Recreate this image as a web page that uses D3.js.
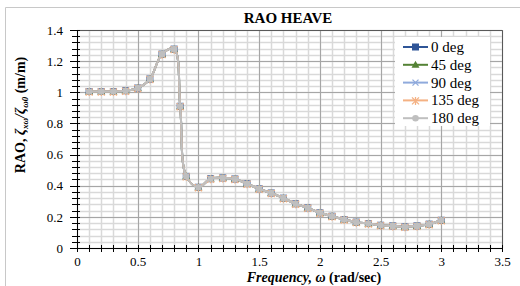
<!DOCTYPE html>
<html>
<head>
<meta charset="utf-8">
<script src="https://cdn.jsdelivr.net/npm/d3@7"></script>
<style>
  html, body { margin: 0; padding: 0; background: #fff; }
  svg, svg text { font-family: "Liberation Serif", "Times New Roman", "DejaVu Serif", serif; }
</style>
</head>
<body>
<div id="chart"></div>
<script>
// DATA ------------------------------------------------------------
var freq = [0.1, 0.2, 0.3, 0.4, 0.5, 0.6, 0.7, 0.8, 0.85, 0.9, 1.0, 1.1, 1.2, 1.3, 1.4, 1.5,
            1.6, 1.7, 1.8, 1.9, 2.0, 2.1, 2.2, 2.3, 2.4, 2.5, 2.6, 2.7, 2.8, 2.9, 3.0];
var rao0   = [1.005, 1.005, 1.005, 1.01, 1.027, 1.085, 1.245, 1.277, 0.91, 0.46, 0.39, 0.445, 0.45, 0.443, 0.413, 0.38,
              0.353, 0.32, 0.284, 0.258, 0.226, 0.204, 0.183, 0.166, 0.157, 0.146, 0.142, 0.136, 0.142, 0.153, 0.178];
var rao45  = rao0.slice();
var rao90  = rao0.slice();
var rao135 = rao0.slice();
var rao180 = rao0.slice();
var seriesNames = ["0 deg", "45 deg", "90 deg", "135 deg", "180 deg"];
var xTicks = [0, 0.5, 1, 1.5, 2, 2.5, 3, 3.5];
var yTicks = [0, 0.2, 0.4, 0.6, 0.8, 1, 1.2, 1.4];

// LAYOUT ------------------------------------------------------------
var width = 520, height = 286;
var margin = {top: 30, right: 18, bottom: 38, left: 77};
var plotW = width - margin.left - margin.right,
    plotH = height - margin.top - margin.bottom;
var serif = '"Liberation Serif", "Times New Roman", "DejaVu Serif", serif';

var colors = {
	'0 deg': '#2f5597',
	'45 deg': '#548235',
	'90 deg': '#8faadc',
	'135 deg': '#f4b183',
	'180 deg': '#bfbfbf'
};

var svg = d3.select("#chart")
	.append("svg")
	.attr("width", width)
	.attr("height", height)
	.attr("font-family", serif);

// outer chart border
svg.append("path")
	.attr("d", "M5.5,286 L5.5,7.5 L520,7.5")
	.style("fill", "none")
	.style("stroke", "#c8c8c8")
	.style("stroke-width", 1);

var g = svg.append("g")
	.attr("transform", "translate(" + margin.left + "," + margin.top + ")");

var x = d3.scaleLinear().domain([0, 3.5]).range([0, plotW]);
var y = d3.scaleLinear().domain([0, 1.4]).range([plotH, 0]);

// gridlines: minor then major
var xMinor = d3.range(0, 35.01, 1).map(function(d) { return d / 10; });
var yMinor = d3.range(0, 35.01, 1).map(function(d) { return d * 0.04; });

g.append("g").selectAll("line")
	.data(xMinor)
	.enter().append("line")
	.attr("x1", function(d) { return Math.round(x(d)) + 0.5; })
	.attr("x2", function(d) { return Math.round(x(d)) + 0.5; })
	.attr("y1", 0).attr("y2", plotH)
	.style("stroke", "#d9d9d9").style("stroke-width", 1.5);

g.append("g").selectAll("line")
	.data(yMinor)
	.enter().append("line")
	.attr("y1", function(d) { return Math.round(y(d)) + 0.5; })
	.attr("y2", function(d) { return Math.round(y(d)) + 0.5; })
	.attr("x1", 0).attr("x2", plotW)
	.style("stroke", "#d9d9d9").style("stroke-width", 1.5);

g.append("g").selectAll("line")
	.data(xTicks)
	.enter().append("line")
	.attr("x1", function(d) { return Math.round(x(d)) + 0.5; })
	.attr("x2", function(d) { return Math.round(x(d)) + 0.5; })
	.attr("y1", 0).attr("y2", plotH)
	.style("stroke", "#a6a6a6").style("stroke-width", 1);

g.append("g").selectAll("line")
	.data(yTicks)
	.enter().append("line")
	.attr("y1", function(d) { return Math.round(y(d)) + 0.5; })
	.attr("y2", function(d) { return Math.round(y(d)) + 0.5; })
	.attr("x1", 0).attr("x2", plotW)
	.style("stroke", "#a6a6a6").style("stroke-width", 1);

// plot frame (top/right)
g.append("path")
	.attr("d", "M0," + 0.5 + " L" + (plotW + 0.5) + ",0.5 L" + (plotW + 0.5) + "," + plotH)
	.style("fill", "none").style("stroke", "#595959").style("stroke-width", 1);

// AXES ------------------------------------------------------------
var xAxis = g.append("g")
	.attr("transform", "translate(0," + plotH + ")")
	.call(d3.axisBottom(x).tickValues(xTicks).tickSize(0).tickPadding(9)
		.tickFormat(function(d) { return d3.format("")(d); }));
xAxis.attr("font-family", serif).attr("font-size", 13);
xAxis.select(".domain").remove();
xAxis.selectAll("text").style("fill", "#000");

var xTickG = g.append("g").attr("transform", "translate(0," + plotH + ")");
xTickG.selectAll("line")
	.data(xMinor)
	.enter().append("line")
	.attr("x1", function(d) { return Math.round(x(d)) + 0.5; })
	.attr("x2", function(d) { return Math.round(x(d)) + 0.5; })
	.attr("y1", -3).attr("y2", 4)
	.style("stroke", "#000");
xTickG.append("line")
	.attr("x1", 0).attr("x2", plotW + 1)
	.attr("y1", 0.5).attr("y2", 0.5)
	.style("stroke", "#000");

var yAxis = g.append("g")
	.call(d3.axisLeft(y).tickValues(yTicks).tickSize(0).tickPadding(14)
		.tickFormat(function(d) { return d3.format("")(+d.toFixed(1)); }));
yAxis.attr("font-family", serif).attr("font-size", 13);
yAxis.select(".domain").remove();
yAxis.selectAll("text").style("fill", "#000");

var yTickG = g.append("g");
yTickG.selectAll("line")
	.data(yMinor)
	.enter().append("line")
	.attr("y1", function(d) { return Math.round(y(d)) + 0.5; })
	.attr("y2", function(d) { return Math.round(y(d)) + 0.5; })
	.attr("x1", function(d, i) { return i % 5 === 0 ? -7 : -5; })
	.attr("x2", 3)
	.style("stroke", "#000");
yTickG.append("line")
	.attr("x1", 0.5).attr("x2", 0.5)
	.attr("y1", 0).attr("y2", plotH + 1)
	.style("stroke", "#000");

// SERIES ------------------------------------------------------------
var allSeries = [rao0, rao45, rao90, rao135, rao180];
var line = d3.line()
	.x(function(d, i) { return x(freq[i]); })
	.y(function(d) { return y(d); })
	.curve(d3.curveCatmullRom.alpha(0.5));

function drawMarker(sel, name, cx, cy) {
	var c = colors[name];
	if (name === '0 deg') {
		sel.append("rect").attr("x", cx - 3.5).attr("y", cy - 3.5)
			.attr("width", 7).attr("height", 7).style("fill", c);
	} else if (name === '45 deg') {
		sel.append("path").attr("d", "M" + cx + "," + (cy - 4) + " L" + (cx + 4) + "," + (cy + 3) + " L" + (cx - 4) + "," + (cy + 3) + "Z")
			.style("fill", c);
	} else if (name === '90 deg') {
		sel.append("path").attr("d", "M" + (cx - 3) + "," + (cy - 3) + " L" + (cx + 3) + "," + (cy + 3) + " M" + (cx - 3) + "," + (cy + 3) + " L" + (cx + 3) + "," + (cy - 3))
			.style("stroke", c).style("stroke-width", 1.3);
	} else if (name === '135 deg') {
		sel.append("path").attr("d", "M" + (cx - 3.5) + "," + (cy - 3) + " L" + (cx + 3.5) + "," + (cy + 4) + " M" + (cx - 3.5) + "," + (cy + 4) + " L" + (cx + 3.5) + "," + (cy - 3) + " M" + cx + "," + (cy - 3.5) + " L" + cx + "," + (cy + 4.5))
			.style("stroke", c).style("stroke-width", 1.3);
	} else {
		sel.append("circle").attr("cx", cx).attr("cy", cy).attr("r", 3.3).style("fill", c);
	}
}

allSeries.forEach(function(vals, si) {
	var name = seriesNames[si];
	g.append("path")
		.datum(vals)
		.attr("d", line)
		.style("fill", "none")
		.style("stroke", colors[name])
		.style("stroke-width", 2);
	var mg = g.append("g");
	vals.forEach(function(v, i) {
		drawMarker(mg, name, x(freq[i]), y(v));
	});
});

// LEGEND ------------------------------------------------------------
var legend = svg.append("g").attr("transform", "translate(395,37)");
legend.append("rect").attr("width", 95).attr("height", 89).style("fill", "#fff");
seriesNames.forEach(function(name, i) {
	var ly = 10 + i * 17.8;
	var row = legend.append("g");
	row.append("line").attr("x1", 8).attr("x2", 33).attr("y1", ly).attr("y2", ly)
		.style("stroke", colors[name]).style("stroke-width", 2);
	drawMarker(row, name, 20.5, ly);
	row.append("text").attr("x", 36).attr("y", ly + 5)
		.style("font-size", "15px").text(name);
});

// TITLES ------------------------------------------------------------
svg.append("text")
	.attr("x", 288).attr("y", 23)
	.attr("text-anchor", "middle")
	.style("font-size", "15px").style("font-weight", "bold")
	.text("RAO HEAVE");

var xl = svg.append("text")
	.attr("x", 314).attr("y", 282)
	.attr("text-anchor", "middle")
	.style("font-size", "14px").style("font-weight", "bold");
xl.append("tspan").style("font-style", "italic").text("Frequency, ω");
xl.append("tspan").text(" (rad/sec)");

var yl = svg.append("text")
	.attr("transform", "translate(25,115) rotate(-90)")
	.attr("text-anchor", "middle")
	.style("font-size", "14px").style("font-weight", "bold");
yl.append("tspan").text("RAO, ");
yl.append("tspan").style("font-style", "italic").text("ζ");
yl.append("tspan").style("font-style", "italic").style("font-size", "9px").attr("dy", 3).text("xω");
yl.append("tspan").style("font-style", "italic").attr("dy", -3).text("/ζ");
yl.append("tspan").style("font-style", "italic").style("font-size", "9px").attr("dy", 3).text("ω0");
yl.append("tspan").attr("dy", -3).text(" (m/m)");
</script>
</body>
</html>
